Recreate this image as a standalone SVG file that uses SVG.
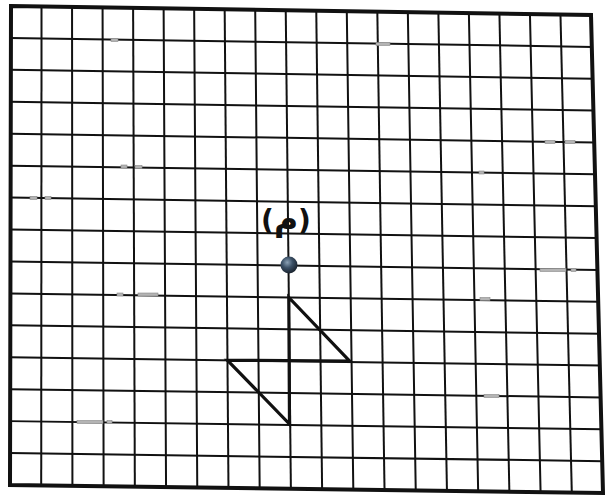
<svg xmlns="http://www.w3.org/2000/svg" width="608" height="498" viewBox="0 0 608 498">
<defs>
<style>
.g line{stroke:#111;stroke-width:2;stroke-linecap:square}
.border{fill:none;stroke:#111;stroke-width:4;stroke-linejoin:miter}
.mk{fill:#b4b4b4;stroke:#888;stroke-width:0.6}
.shape{fill:none;stroke:#111;stroke-width:3.2;stroke-linejoin:miter}
.lbl{font-family:"DejaVu Sans","Noto Sans",sans-serif;font-size:28px;fill:#111;font-weight:bold}
.big{font-size:33px}
</style>
<radialGradient id="ball" cx="0.4" cy="0.35" r="0.7">
<stop offset="0" stop-color="#8aa0b4"/>
<stop offset="0.45" stop-color="#3b5066"/>
<stop offset="1" stop-color="#141c26"/>
</radialGradient>
</defs>
<rect width="608" height="498" fill="#fff"/>
<g id="grid" class="g">
<line x1="41.53" y1="6.47" x2="41.21" y2="485.42"/>
<line x1="72.05" y1="6.95" x2="72.42" y2="485.84"/>
<line x1="102.58" y1="7.42" x2="103.63" y2="486.26"/>
<line x1="133.11" y1="7.89" x2="134.84" y2="486.68"/>
<line x1="163.63" y1="8.37" x2="166.05" y2="487.11"/>
<line x1="194.16" y1="8.84" x2="197.26" y2="487.53"/>
<line x1="224.68" y1="9.32" x2="228.47" y2="487.95"/>
<line x1="255.21" y1="9.79" x2="259.68" y2="488.37"/>
<line x1="285.74" y1="10.26" x2="290.89" y2="488.79"/>
<line x1="316.26" y1="10.74" x2="322.11" y2="489.21"/>
<line x1="346.79" y1="11.21" x2="353.32" y2="489.63"/>
<line x1="377.32" y1="11.68" x2="384.53" y2="490.05"/>
<line x1="407.84" y1="12.16" x2="415.74" y2="490.47"/>
<line x1="438.37" y1="12.63" x2="446.95" y2="490.89"/>
<line x1="468.89" y1="13.11" x2="478.16" y2="491.32"/>
<line x1="499.42" y1="13.58" x2="509.37" y2="491.74"/>
<line x1="529.95" y1="14.05" x2="540.58" y2="492.16"/>
<line x1="560.47" y1="14.53" x2="571.79" y2="492.58"/>
<line x1="10.93" y1="37.93" x2="591.8" y2="46.87"/>
<line x1="10.87" y1="69.87" x2="592.6" y2="78.73"/>
<line x1="10.8" y1="101.8" x2="593.4" y2="110.6"/>
<line x1="10.73" y1="133.73" x2="594.2" y2="142.47"/>
<line x1="10.67" y1="165.67" x2="595" y2="174.33"/>
<line x1="10.6" y1="197.6" x2="595.8" y2="206.2"/>
<line x1="10.53" y1="229.53" x2="596.6" y2="238.07"/>
<line x1="10.47" y1="261.47" x2="597.4" y2="269.93"/>
<line x1="10.4" y1="293.4" x2="598.2" y2="301.8"/>
<line x1="10.33" y1="325.33" x2="599" y2="333.67"/>
<line x1="10.27" y1="357.27" x2="599.8" y2="365.53"/>
<line x1="10.2" y1="389.2" x2="600.6" y2="397.4"/>
<line x1="10.13" y1="421.13" x2="601.4" y2="429.27"/>
<line x1="10.07" y1="453.07" x2="602.2" y2="461.13"/>
</g>
<polygon id="frame" class="border" points="11,6 591,15 603,493 10,485"/>
<g id="marks">
<rect class="mk" x="111" y="38.5" width="7" height="3"/>
<rect class="mk" x="376" y="42.5" width="14" height="3"/>
<rect class="mk" x="121" y="165" width="6" height="3"/>
<rect class="mk" x="135" y="165.5" width="7" height="3"/>
<rect class="mk" x="30" y="196.5" width="7" height="3"/>
<rect class="mk" x="45" y="196.5" width="6" height="3"/>
<rect class="mk" x="545" y="140.5" width="10" height="3"/>
<rect class="mk" x="565" y="140.5" width="10" height="3"/>
<rect class="mk" x="479" y="171" width="5" height="3"/>
<rect class="mk" x="117" y="293" width="6" height="3"/>
<rect class="mk" x="138" y="293" width="20" height="3"/>
<rect class="mk" x="540" y="268.5" width="26" height="3"/>
<rect class="mk" x="571" y="268.5" width="5" height="3"/>
<rect class="mk" x="480" y="297.5" width="10" height="3"/>
<rect class="mk" x="77" y="420.5" width="26" height="3"/>
<rect class="mk" x="107" y="420.5" width="5" height="3"/>
<rect class="mk" x="484" y="394.5" width="15" height="3"/>
</g>
<g id="figure">
<path class="shape" d="M289.5,424 L288.8,297.4 L349.5,361 L227.5,360.3 Z"/>
</g>
<g id="point">
<circle cx="289" cy="265" r="8.5" fill="url(#ball)"/>
<text class="lbl" x="286" y="230" text-anchor="middle">(<tspan class="big">م</tspan>)</text>
</g>
</svg>
